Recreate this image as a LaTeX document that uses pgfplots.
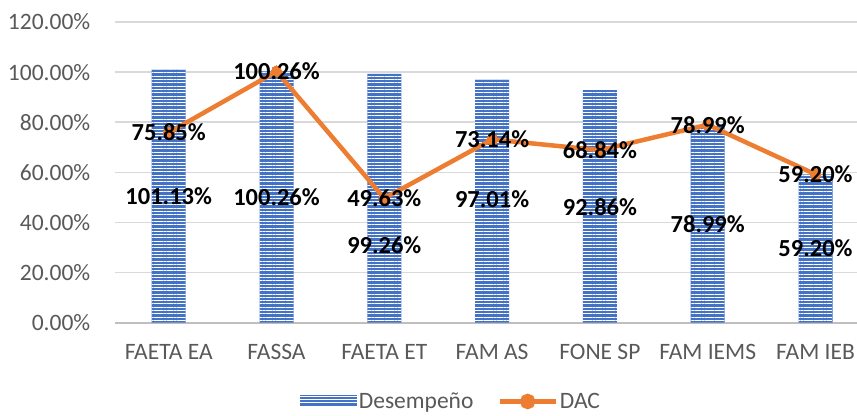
\documentclass[border=0pt]{standalone}
\usepackage{pgfplots}
\pgfplotsset{compat=1.18}
\usepackage{fontspec}
\setmainfont{Carlito}
\usetikzlibrary{patterns.meta}
\definecolor{barblue}{HTML}{4472C4}
\definecolor{dacorange}{HTML}{ED7D31}
\definecolor{txtgray}{HTML}{595959}
\definecolor{gridgray}{HTML}{D9D9D9}
\definecolor{axgray}{HTML}{BFBFBF}
\begin{document}
\begin{tikzpicture}
\useasboundingbox (0,0) rectangle (857bp,416bp);
\begin{axis}[
  at={(114.8bp,93.3bp)}, anchor=south west,
  scale only axis, width=742bp, height=300.7bp,
  xmin=-0.5, xmax=6.383, ymin=0, ymax=120,
  clip=false,
  xtick={0,...,6},
  xticklabels={FAETA EA,FASSA,FAETA ET,FAM AS,FONE SP,FAM IEMS,FAM IEB},
  ytick={0,20,40,60,80,100,120},
  yticklabels={0.00\%,20.00\%,40.00\%,60.00\%,80.00\%,100.00\%,120.00\%},
  major tick length=0,
  axis line style={draw=none},
  ymajorgrids, grid style={gridgray, line width=1.5bp},
  extra y ticks={0}, extra y tick labels={},
  extra y tick style={grid style={axgray, line width=2bp}},
  tick label style={font=\fontsize{23.5bp}{23.5bp}\selectfont, text=txtgray},
  xticklabel style={yshift=-18bp},
  yticklabel style={xshift=-21bp},
  legend columns=2,
  legend style={draw=none, at={(0.453,-0.262)}, anchor=center,
    font=\fontsize{23.5bp}{23.5bp}\selectfont, text=txtgray,
    /tikz/every even column/.append style={column sep=22bp}},
]
\addplot[ybar, bar width=34bp, draw=none, fill=barblue,
  postaction={pattern={Lines[angle=0,distance=3.3bp,line width=0.7bp]}, pattern color=white},
  legend image code/.code={
    \fill[barblue] (0bp,-6bp) rectangle (57bp,6bp);
    \path[pattern={Lines[angle=0,distance=3.3bp,line width=0.7bp]}, pattern color=white] (0bp,-6bp) rectangle (57bp,6bp);
  }]
  coordinates {(0,101.13) (1,100.26) (2,99.26) (3,97.01) (4,92.86) (5,78.99) (6,59.20)};
\addlegendentry{Desempeño}
\addplot[dacorange, line width=4.5bp, mark=*, mark size=5.5bp,
  mark options={solid, fill=dacorange, draw=dacorange, line width=0bp},
  nodes near coords, point meta=explicit symbolic,
  nodes near coords style={anchor=center, font=\bfseries\fontsize{24.5bp}{24.5bp}\selectfont, text=black},
  legend image code/.code={
    \draw[dacorange, line width=4.5bp] (0bp,0bp) -- (56bp,0bp);
    \fill[dacorange] (28bp,0bp) circle (5.5bp);
  }]
  coordinates {(0,75.85)[75.85\%] (1,100.26)[100.26\%] (2,49.63)[49.63\%] (3,73.14)[73.14\%] (4,68.84)[68.84\%] (5,78.99)[78.99\%] (6,59.20)[59.20\%]};
\addlegendentry{DAC}
\addplot[draw=none, mark=none, forget plot,
  nodes near coords, point meta=explicit symbolic,
  nodes near coords style={anchor=center, font=\bfseries\fontsize{24.5bp}{24.5bp}\selectfont, text=black}]
  coordinates {(0,50.57)[101.13\%] (1,50.13)[100.26\%] (2,31.0)[99.26\%] (3,49.5)[97.01\%] (4,46.3)[92.86\%] (5,39.5)[78.99\%] (6,29.6)[59.20\%]};
\end{axis}
\end{tikzpicture}
\end{document}
